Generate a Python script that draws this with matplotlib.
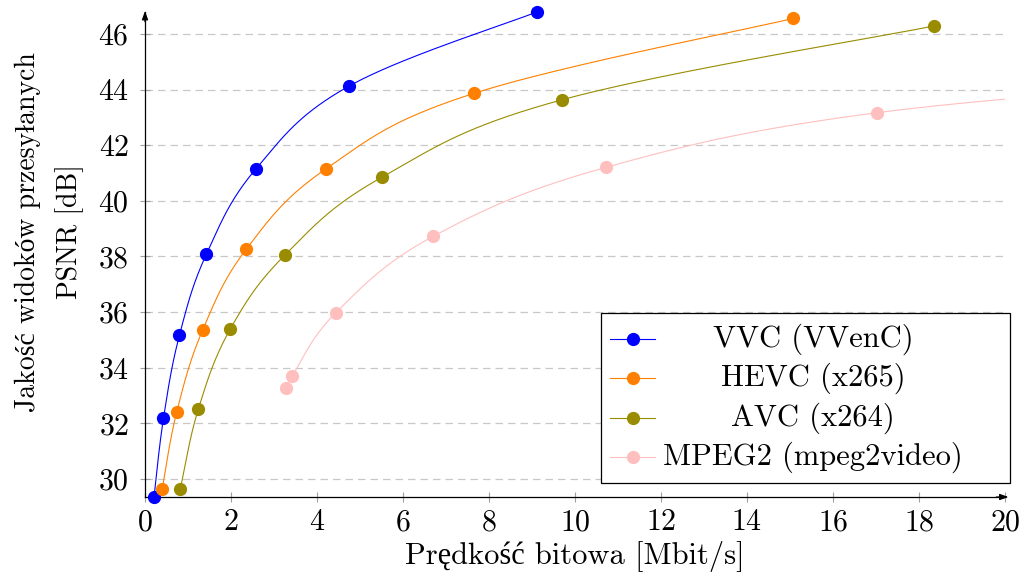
import numpy as np
import matplotlib
matplotlib.use("Agg")
from matplotlib import pyplot as plt
from matplotlib.lines import Line2D
from matplotlib.patches import Rectangle

plt.rcParams["font.family"] = ["cmr10", "Liberation Serif"]
plt.rcParams["mathtext.fontset"] = "cm"
plt.rcParams["axes.unicode_minus"] = False
plt.rcParams["axes.formatter.use_mathtext"] = True

labels = ["VVC (VVenC)", "HEVC (x265)", "AVC (x264)", "MPEG2 (mpeg2video)"]
colors = ["#0000ff", "#ff8000", "#998c00", "#ffbfbf"]

# Bitrate [Mbit/s] and PSNR [dB] per codec
vvc_rate = [0.21, 0.43, 0.80, 1.43, 2.58, 4.75, 9.11]
vvc_psnr = [29.35, 32.18, 35.16, 38.09, 41.15, 44.13, 46.79]
hevc_rate = [0.40, 0.74, 1.34, 2.36, 4.21, 7.64, 15.08]
hevc_psnr = [29.64, 32.42, 35.35, 38.27, 41.15, 43.86, 46.56]
avc_rate = [0.82, 1.24, 1.98, 3.26, 5.50, 9.69, 18.36]
avc_psnr = [29.63, 32.51, 35.38, 38.06, 40.84, 43.63, 46.29]
mpeg2_rate = [3.27, 3.42, 4.44, 6.70, 10.71, 17.03, 27.0]
mpeg2_psnr = [33.28, 33.70, 35.98, 38.72, 41.20, 43.17, 44.5]

x_ticks = list(range(0, 21, 2))
y_ticks = list(range(30, 47, 2))

W, H = 1024, 578


def smooth(x, y, tension=0.55, n=40):
    # pgfplots-like smooth curve: cardinal spline through the points
    p = np.column_stack([x, y]).astype(float)
    out = [p[:1]]
    t = np.linspace(0, 1, n)[1:, None]
    for i in range(len(p) - 1):
        prev = p[max(i - 1, 0)]
        nxt = p[min(i + 2, len(p) - 1)]
        c1 = p[i] + tension / 3 * (p[i + 1] - prev)
        c2 = p[i + 1] - tension / 3 * (nxt - p[i])
        seg = ((1 - t) ** 3 * p[i] + 3 * (1 - t) ** 2 * t * c1
               + 3 * (1 - t) * t ** 2 * c2 + t ** 3 * p[i + 1])
        out.append(seg)
    return np.vstack(out)


def fxy(px, py):
    return px / W, 1 - py / H


series = [(vvc_rate, vvc_psnr), (hevc_rate, hevc_psnr),
          (avc_rate, avc_psnr), (mpeg2_rate, mpeg2_psnr)]

fig = plt.figure(figsize=(W / 100, H / 100), dpi=100)
ax = fig.add_axes([145 / W, 1 - 497 / H, 860 / W, 485 / H])

for (rate, psnr), color in zip(series, colors):
    curve = smooth(rate, psnr)
    ax.plot(curve[:, 0], curve[:, 1], color=color, lw=0.8, zorder=3)
    rate = np.array(rate)
    psnr = np.array(psnr)
    keep = rate <= x_ticks[-1]
    ax.plot(rate[keep], psnr[keep], "o", color=color, markersize=8.5,
            clip_on=False, zorder=4)

all_psnr = np.concatenate([s[1] for s in series])
ax.set_xlim(x_ticks[0], x_ticks[-1])
ax.set_ylim(all_psnr.min(), all_psnr.max())
ax.set_xticks(x_ticks)
ax.set_yticks(y_ticks)
ax.tick_params(axis="both", direction="inout", length=7, width=0.8,
               color="#a0a0a0", labelsize=21.5, labelcolor="black")
ax.tick_params(axis="x", pad=5)
ax.tick_params(axis="y", pad=8)
ax.yaxis.grid(True, color="#c8c8c8", linestyle=(0, (6, 4)), linewidth=0.9)
ax.set_axisbelow(True)

for side in ["top", "right"]:
    ax.spines[side].set_visible(False)
for side in ["left", "bottom"]:
    ax.spines[side].set_linewidth(0.9)

# Axis arrows
ax.annotate("", xy=(1.004, 0), xytext=(0.99, 0), xycoords="axes fraction",
            arrowprops=dict(arrowstyle="-|>,head_length=0.5,head_width=0.18",
                            color="black", lw=0.9, shrinkA=0, shrinkB=0))
ax.annotate("", xy=(0, 1.002), xytext=(0, 0.98), xycoords="axes fraction",
            arrowprops=dict(arrowstyle="-|>,head_length=0.5,head_width=0.18",
                            color="black", lw=0.9, shrinkA=0, shrinkB=0))

fig.text(*fxy(575, 557), "Prędkość bitowa [Mbit/s]", ha="center",
         va="center", fontsize=22)
fig.text(*fxy(49, 232), "Jakość widoków przesyłanych\nPSNR [dB]",
         rotation=90, ha="center", va="center", multialignment="center",
         fontsize=20, linespacing=1.65)

# Legend box, drawn like pgfplots (centered entries)
x0, y0 = fxy(601, 483)
x1, y1 = fxy(1010, 313)
fig.add_artist(Rectangle((x0, y0), x1 - x0, y1 - y0, transform=fig.transFigure,
                         facecolor="white", edgecolor="black", lw=0.9,
                         zorder=5))
rows = [339, 378, 418, 457]
for label, color, py in zip(labels, colors, rows):
    xa, ya = fxy(610, py)
    xb, _ = fxy(655, py)
    xm, _ = fxy(632.5, py)
    fig.add_artist(Line2D([xa, xb], [ya, ya], transform=fig.transFigure,
                          color=color, lw=0.8, zorder=6))
    fig.add_artist(Line2D([xm], [ya], transform=fig.transFigure, marker="o",
                          color=color, markersize=8.5, zorder=6))
    fig.text(*fxy(813, py), label, ha="center", va="center", fontsize=22,
             zorder=6)

fig.savefig("out.png", dpi=100)
